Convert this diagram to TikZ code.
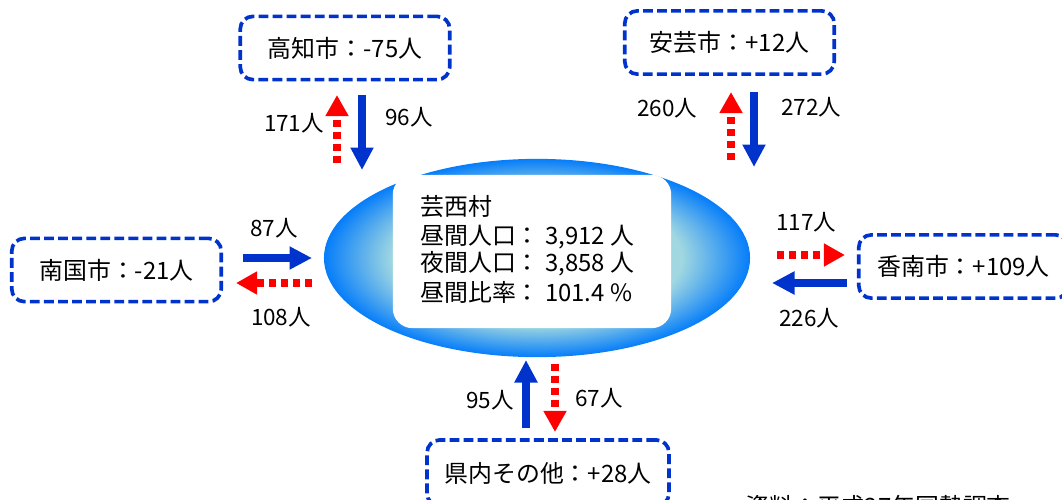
\documentclass[tikz,border=0pt]{standalone}
\usepackage{fontspec}
\setmainfont{Noto Sans CJK JP}
\usetikzlibrary{arrows.meta,shapes.geometric}

\definecolor{lineblue}{RGB}{0,51,204}
\definecolor{flowred}{RGB}{255,0,0}
\definecolor{glowblue}{RGB}{5,125,250}
\definecolor{glowlight}{RGB}{160,215,225}
\pgfdeclareradialshading{lakeglow}{\pgfpoint{0bp}{0bp}}{color(0bp)=(glowlight); color(17bp)=(glowlight); color(25bp)=(glowblue); color(50bp)=(glowblue)}

\tikzset{
  city/.style={draw=lineblue, line width=2.6pt, dash pattern=on 7pt off 3pt,
    rounded corners=9pt, inner sep=0pt, minimum width=149pt, minimum height=45pt,
    font=\fontsize{17}{20}\selectfont},
  count/.style={font=\fontsize{16}{19}\selectfont},
  line/.style={anchor=west, inner sep=0pt, font=\fontsize{17}{20}\selectfont},
  inarrow/.style={draw=lineblue, line width=5pt, -{Triangle[width=15.5pt,length=16pt]}},
  outarrow/.style={draw=flowred, line width=5pt, dash pattern=on 5pt off 3.5pt,
    -{Triangle[width=15.5pt,length=15pt]}}
}

\begin{document}
\begin{tikzpicture}[x=0.025cm,y=-0.025cm]
\useasboundingbox (0,0) rectangle (1062,499);
\clip (0,0) rectangle (1062,499);

\node[ellipse, shading=lakeglow, minimum width=303pt, minimum height=141pt] at (537,258) (village) {};
\node[fill=white, rounded corners=14pt, minimum width=198pt, minimum height=109pt] at (532,251.5) (panel) {};

\node[line] at (420,207) (vname) {芸西村};
\node[line] at (420,237) (day)   {昼間人口： 3,912 人};
\node[line] at (420,264) (night) {夜間人口： 3,858 人};
\node[line] at (420,292) (ratio) {昼間比率： 101.4 \%};

\node[city] at (345,48)      (kochi) {高知市：-75人};
\node[city] at (729.5,42.5)  (aki)   {安芸市：+12人};
\node[city] at (116.5,270)   (nankoku) {南国市：-21人};
\node[city] at (963.5,266.5) (konan) {香南市：+109人};
\node[city, minimum width=172pt, minimum height=47pt] at (548,473) (other) {県内その他：+28人};

\coordinate (kochiOutA) at (337,163);   \coordinate (kochiOutB) at (337,95);
\coordinate (kochiInA)  at (362,95);    \coordinate (kochiInB)  at (362,170);
\coordinate (akiOutA)   at (731,160);   \coordinate (akiOutB)   at (731,92);
\coordinate (akiInA)    at (754,92);    \coordinate (akiInB)    at (754,167);
\coordinate (nankokuInA)  at (243,258); \coordinate (nankokuInB)  at (312,258);
\coordinate (nankokuOutA) at (312,283); \coordinate (nankokuOutB) at (236,283);
\coordinate (konanOutA) at (777,255);   \coordinate (konanOutB) at (845,255);
\coordinate (konanInA)  at (847,283);   \coordinate (konanInB)  at (772,283);
\coordinate (otherInA)  at (526,428);   \coordinate (otherInB)  at (526,360);
\coordinate (otherOutA) at (555,364);   \coordinate (otherOutB) at (555,432);

\draw[outarrow] (kochiOutA) -- (kochiOutB);
\draw[inarrow]  (kochiInA) -- (kochiInB);
\draw[outarrow] (akiOutA) -- (akiOutB);
\draw[inarrow]  (akiInA) -- (akiInB);
\draw[inarrow]  (nankokuInA) -- (nankokuInB);
\draw[outarrow] (nankokuOutA) -- (nankokuOutB);
\draw[outarrow] (konanOutA) -- (konanOutB);
\draw[inarrow]  (konanInA) -- (konanInB);
\draw[inarrow]  (otherInA) -- (otherInB);
\draw[outarrow] (otherOutA) -- (otherOutB);

\node[count] at (294,123) (kochiOut) {171人};
\node[count] at (409,117) (kochiIn)  {96人};
\node[count] at (667,108) (akiOut)   {260人};
\node[count] at (811,107) (akiIn)    {272人};
\node[count] at (274,228) (nankokuIn)  {87人};
\node[count] at (281,317) (nankokuOut) {108人};
\node[count] at (806,222) (konanOut) {117人};
\node[count] at (809,318) (konanIn)  {226人};
\node[count] at (490,400) (otherIn)  {95人};
\node[count] at (599,398) (otherOut) {67人};

\node[line] at (745,506) (source) {資料：平成27年国勢調査};

\end{tikzpicture}
\end{document}
